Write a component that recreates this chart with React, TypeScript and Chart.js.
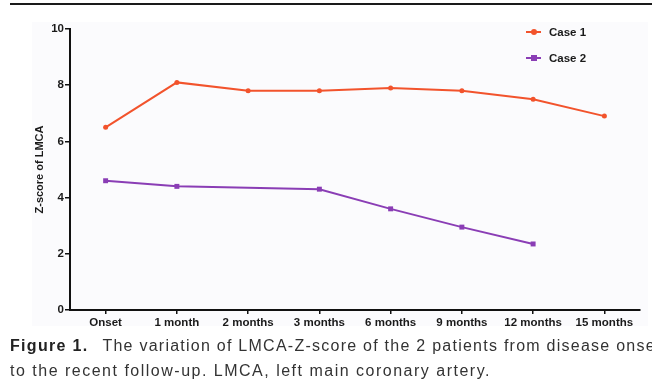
import React, { useEffect, useRef } from "react";
import { Chart, registerables } from "chart.js";

Chart.register(...registerables);

const categories = ["Onset", "1 month", "2 months", "3 months", "6 months", "9 months", "12 months", "15 months"];
const case1Values = [6.5, 8.1, 7.8, 7.8, 7.9, 7.8, 7.5, 6.9];
const case2Values: (number | null)[] = [4.6, 4.4, null, 4.3, 3.6, 2.95, 2.35, null];
const yTicks = [0, 2, 4, 6, 8, 10];
const seriesNames = ["Case 1", "Case 2"];
const seriesColors = ["#f2532c", "#8a3db5"];

const FONT = "'Liberation Sans', Arial, Helvetica, sans-serif";

export default function App() {
  const canvasRef = useRef<HTMLCanvasElement | null>(null);

  useEffect(() => {
    if (!canvasRef.current) return;
    const chart = new Chart(canvasRef.current, {
      type: "line",
      data: {
        labels: categories,
        datasets: [
          {
            label: seriesNames[0],
            data: case1Values,
            borderColor: seriesColors[0],
            backgroundColor: seriesColors[0],
            borderWidth: 2,
            pointStyle: "circle",
            pointRadius: 2.5,
            pointBorderWidth: 0,
            tension: 0,
          },
          {
            label: seriesNames[1],
            data: case2Values,
            borderColor: seriesColors[1],
            backgroundColor: seriesColors[1],
            borderWidth: 2,
            pointStyle: "rect",
            pointRadius: 3.5,
            pointBorderWidth: 0,
            tension: 0,
            spanGaps: true,
          },
        ],
      },
      options: {
        animation: false,
        responsive: false,
        maintainAspectRatio: false,
        layout: { padding: { top: 29, right: 12, bottom: 0, left: 0 } },
        plugins: { legend: { display: false }, tooltip: { enabled: false } },
        scales: {
          x: {
            type: "category",
            offset: true,
            afterFit: (s: any) => {
              s.height = 25;
            },
            grid: {
              offset: false,
              drawOnChartArea: false,
              drawTicks: true,
              tickLength: 4,
              color: "#111",
              lineWidth: 1.5,
            },
            border: { display: true, color: "#111", width: 2 },
            ticks: {
              color: "#1a1a1a",
              padding: 2,
              maxRotation: 0,
              autoSkip: false,
              font: { family: FONT, size: 11.5, weight: "bold" },
            },
          },
          y: {
            min: 0,
            max: 10,
            afterFit: (s: any) => {
              s.width = 70;
            },
            afterBuildTicks: (s: any) => {
              s.ticks = yTicks.map((v) => ({ value: v }));
            },
            grid: {
              drawOnChartArea: false,
              drawTicks: true,
              tickLength: 5,
              color: "#111",
              lineWidth: 1.5,
            },
            border: { display: true, color: "#111", width: 2 },
            ticks: {
              color: "#1a1a1a",
              padding: 1,
              font: { family: FONT, size: 11.5, weight: "bold" },
            },
            title: {
              display: true,
              text: "Z-score of LMCA",
              color: "#1a1a1a",
              padding: { top: 33, bottom: 0 },
              font: { family: FONT, size: 11, weight: "bold" },
            },
          },
        },
      },
    });
    return () => chart.destroy();
  }, []);

  const legendRow = (i: number, top: number) => (
    <div
      key={i}
      style={{ position: "absolute", left: 526, top: top - 8, height: 16, display: "flex", alignItems: "center" }}
    >
      <div style={{ position: "relative", width: 15, height: 2, background: seriesColors[i] }}>
        <div
          style={{
            position: "absolute",
            left: 4.5,
            top: -2,
            width: 6,
            height: 6,
            borderRadius: i === 0 ? "50%" : 0,
            background: seriesColors[i],
          }}
        />
      </div>
      <span
        style={{
          marginLeft: 8,
          fontFamily: FONT,
          fontSize: 11.5,
          fontWeight: "bold",
          color: "#1a1a1a",
          whiteSpace: "nowrap",
        }}
      >
        {seriesNames[i]}
      </span>
    </div>
  );

  return (
    <div style={{ position: "fixed", left: 0, top: 0, width: 652, height: 392, background: "#fff", overflow: "hidden" }}>
      <div style={{ position: "absolute", left: 10, top: 3, width: 642, height: 2, background: "#1a1a1a" }} />
      <div style={{ position: "absolute", left: 32, top: 22, width: 616, height: 304, background: "#fbfbfd" }} />
      <canvas ref={canvasRef} width={652} height={335} style={{ position: "absolute", left: 0, top: 0, width: 652, height: 335 }} />
      {legendRow(0, 32)}
      {legendRow(1, 58)}
      <div
        style={{
          position: "absolute",
          left: 10,
          top: 334,
          width: 642,
          fontFamily: FONT,
          fontSize: 16,
          lineHeight: "24.5px",
          color: "#333",
          whiteSpace: "nowrap",
          overflow: "hidden",
        }}
      >
        <div style={{ letterSpacing: 1.25 }}>
          <span style={{ fontWeight: "bold", color: "#222", letterSpacing: 1.3 }}>Figure 1.</span>
          <span style={{ marginLeft: 14 }}>The variation of LMCA-Z-score of the 2 patients from disease onset</span>
        </div>
        <div style={{ letterSpacing: 1.5 }}>to the recent follow-up. LMCA, left main coronary artery.</div>
      </div>
    </div>
  );
}
